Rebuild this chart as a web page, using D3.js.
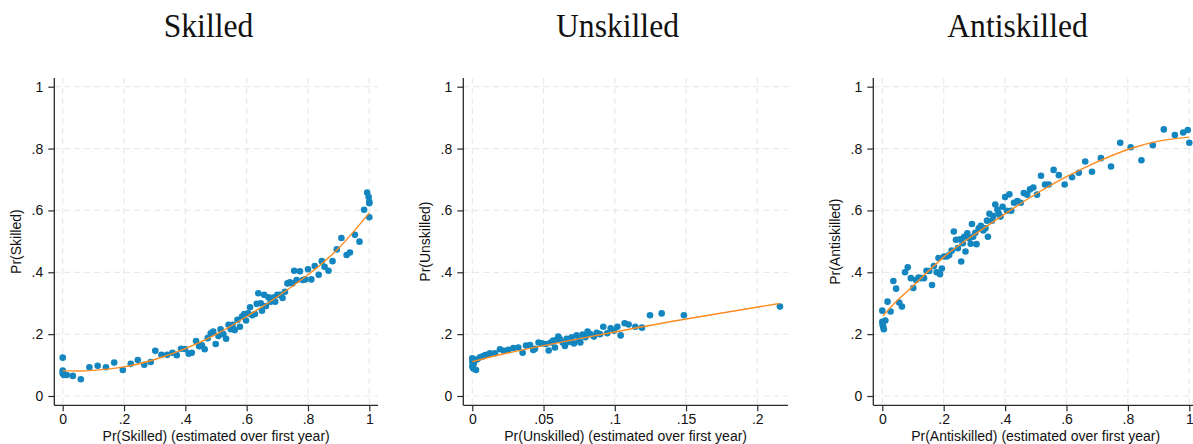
<!DOCTYPE html>
<html>
<head>
<meta charset="utf-8">
<script src="https://cdn.jsdelivr.net/npm/d3@7"></script>
<style>
  html, body { margin: 0; padding: 0; background: #fff; }
  svg { display: block; }
</style>
</head>
<body>
<svg id="chart" width="1193" height="444"></svg>
<script>
// Binned scatter: realised probability vs. first-year estimate, with fitted curve.

const skilledPoints = [
  [0,0.124],[0,0.082],[0,0.073],[0.004,0.068],[0.013,0.068],[0.033,0.065],[0.059,0.054],
  [0.087,0.093],[0.114,0.098],[0.141,0.093],[0.168,0.108],[0.196,0.084],[0.222,0.104],
  [0.245,0.116],[0.266,0.101],[0.287,0.110],[0.302,0.146],[0.322,0.133],[0.341,0.133],
  [0.358,0.140],[0.372,0.132],[0.386,0.153],[0.399,0.152],[0.411,0.137],[0.421,0.140],
  [0.435,0.178],[0.445,0.161],[0.454,0.164],[0.463,0.151],[0.473,0.187],[0.483,0.203],
  [0.491,0.208],[0.499,0.168],[0.508,0.194],[0.515,0.216],[0.524,0.200],[0.533,0.185],
  [0.541,0.230],[0.548,0.216],[0.554,0.230],[0.561,0.213],[0.570,0.246],[0.578,0.224],
  [0.585,0.257],[0.592,0.265],[0.598,0.244],[0.605,0.267],[0.611,0.287],[0.618,0.261],
  [0.627,0.265],[0.633,0.298],[0.638,0.332],[0.646,0.300],[0.650,0.276],[0.657,0.327],
  [0.663,0.291],[0.671,0.319],[0.678,0.305],[0.687,0.318],[0.693,0.305],[0.700,0.327],
  [0.709,0.327],[0.717,0.317],[0.725,0.337],[0.733,0.364],[0.741,0.368],[0.749,0.364],
  [0.755,0.405],[0.763,0.375],[0.774,0.403],[0.783,0.375],[0.791,0.377],[0.800,0.410],
  [0.811,0.377],[0.822,0.420],[0.835,0.392],[0.845,0.436],[0.854,0.418],[0.867,0.405],
  [0.880,0.436],[0.894,0.474],[0.909,0.511],[0.926,0.456],[0.937,0.464],[0.953,0.521],
  [0.968,0.499],[0.983,0.602],[0.993,0.658],[0.998,0.643],[1.0,0.623],[1.0,0.628],[1.0,0.578]
];
const skilledFit = [
  [0,0.082],[0.05,0.081],[0.1,0.083],[0.2,0.094],[0.3,0.118],[0.4,0.153],[0.5,0.199],
  [0.6,0.257],[0.7,0.321],[0.8,0.392],[0.9,0.478],[1.0,0.592]
];

const unskilledPoints = [
  [0,0.122],[0,0.111],[0,0.095],[0.0007,0.089],[0.0026,0.084],[0.001,0.104],[0.002,0.116],
  [0.0035,0.119],[0.0054,0.125],[0.0073,0.128],[0.0091,0.132],[0.011,0.134],[0.0124,0.138],
  [0.0159,0.138],[0.0194,0.151],[0.0222,0.146],[0.0253,0.149],[0.0288,0.155],[0.0323,0.157],
  [0.0353,0.140],[0.0377,0.163],[0.0405,0.165],[0.0428,0.149],[0.044,0.153],[0.0465,0.173],
  [0.0487,0.170],[0.0515,0.168],[0.0536,0.147],[0.055,0.173],[0.0568,0.179],[0.058,0.157],
  [0.0592,0.181],[0.0604,0.192],[0.0615,0.183],[0.0634,0.173],[0.065,0.162],[0.0662,0.185],
  [0.0681,0.175],[0.0697,0.190],[0.0713,0.170],[0.0732,0.196],[0.0749,0.181],[0.0758,0.173],
  [0.0774,0.199],[0.0793,0.190],[0.0809,0.208],[0.0826,0.200],[0.0854,0.192],[0.0873,0.204],
  [0.0896,0.200],[0.0919,0.224],[0.0947,0.203],[0.0971,0.219],[0.0994,0.211],[0.1018,0.224],
  [0.1041,0.196],[0.1069,0.235],[0.1097,0.231],[0.1144,0.224],[0.1191,0.221],[0.1247,0.261],
  [0.1329,0.267],[0.1485,0.261],[0.2159,0.289]
];
const unskilledFit = [
  [0,0.111],[0.02,0.134],[0.05,0.163],[0.1,0.207],[0.15,0.249],[0.2155,0.299]
];

const antiskilledPoints = [
  [0,0.276],[0,0.240],[0.001,0.230],[0.005,0.216],[0.003,0.224],[0.010,0.244],[0.017,0.305],
  [0.027,0.273],[0.036,0.372],[0.045,0.347],[0.055,0.302],[0.064,0.289],[0.074,0.400],
  [0.083,0.416],[0.093,0.381],[0.101,0.349],[0.110,0.375],[0.118,0.383],[0.126,0.381],
  [0.136,0.381],[0.144,0.405],[0.153,0.404],[0.162,0.359],[0.168,0.420],[0.177,0.400],
  [0.183,0.446],[0.188,0.394],[0.194,0.412],[0.201,0.451],[0.210,0.451],[0.218,0.456],
  [0.226,0.470],[0.233,0.532],[0.240,0.505],[0.246,0.478],[0.253,0.507],[0.257,0.435],
  [0.262,0.494],[0.267,0.515],[0.271,0.467],[0.277,0.526],[0.283,0.510],[0.288,0.492],
  [0.292,0.556],[0.296,0.515],[0.303,0.528],[0.307,0.491],[0.314,0.542],[0.321,0.550],
  [0.329,0.535],[0.336,0.542],[0.341,0.567],[0.344,0.515],[0.349,0.589],[0.357,0.567],
  [0.362,0.582],[0.368,0.619],[0.375,0.602],[0.379,0.591],[0.385,0.580],[0.392,0.612],
  [0.400,0.643],[0.406,0.599],[0.414,0.652],[0.420,0.599],[0.429,0.625],[0.440,0.630],
  [0.451,0.625],[0.461,0.656],[0.472,0.651],[0.481,0.668],[0.492,0.674],[0.504,0.651],
  [0.517,0.712],[0.530,0.684],[0.542,0.684],[0.558,0.731],[0.575,0.714],[0.594,0.684],
  [0.618,0.707],[0.640,0.722],[0.661,0.758],[0.683,0.725],[0.712,0.769],[0.745,0.742],
  [0.775,0.819],[0.809,0.804],[0.844,0.762],[0.881,0.811],[0.917,0.862],[0.953,0.844],
  [0.980,0.852],[0.995,0.860],[1.0,0.819]
];
const antiskilledFit = [
  [0.002,0.259],[0.05,0.310],[0.1,0.356],[0.2,0.449],[0.3,0.522],[0.4,0.589],[0.5,0.653],
  [0.6,0.709],[0.7,0.757],[0.8,0.797],[0.9,0.824],[1.0,0.837]
];

const probTicks = [0, 0.2, 0.4, 0.6, 0.8, 1];
const unskilledTicks = [0, 0.05, 0.1, 0.15, 0.2];
const panelTitles = ["Skilled", "Unskilled", "Antiskilled"];
const yTitles = ["Pr(Skilled)", "Pr(Unskilled)", "Pr(Antiskilled)"];
const xTitles = [
  "Pr(Skilled) (estimated over first year)",
  "Pr(Unskilled) (estimated over first year)",
  "Pr(Antiskilled) (estimated over first year)"
];

// Stata-style labels: no leading zero
const fmt = d => d === 0 ? "0" : d === 1 ? "1" : String(+d.toFixed(3)).replace(/^0\./, ".");

const panels = [
  { points: skilledPoints, fit: skilledFit, xTicks: probTicks, xDomain: [0, 1],
    left: 54.3, right: 378, xRange: [62.7, 369.3], titleX: 208.5 },
  { points: unskilledPoints, fit: unskilledFit, xTicks: unskilledTicks, xDomain: [0, 0.2],
    left: 463.3, right: 788, xRange: [472.3, 757.3], titleX: 617.5 },
  { points: antiskilledPoints, fit: antiskilledFit, xTicks: probTicks, xDomain: [0, 1],
    left: 873.3, right: 1198, xRange: [882.3, 1189.3], titleX: 1017.5 }
];

const plotTop = 78, plotBottom = 405.3;
const dotColor = "#1386bf", lineColor = "#ff8b1e", gridColor = "#e9e9e9", axisColor = "#2a2a2a";

const svg = d3.select("#chart");
const y = d3.scaleLinear().domain([0, 1]).range([396, 86.7]);

panels.forEach((p, i) => {
  const x = d3.scaleLinear().domain(p.xDomain).range(p.xRange);
  const g = svg.append("g");

  // dashed grid
  g.selectAll("line.hg").data(probTicks).join("line").attr("class", "hg")
    .attr("x1", p.left).attr("x2", p.right)
    .attr("y1", d => y(d)).attr("y2", d => y(d))
    .attr("stroke", gridColor).attr("stroke-width", 1.2).attr("stroke-dasharray", "6,4");
  g.selectAll("line.vg").data(p.xTicks).join("line").attr("class", "vg")
    .attr("x1", d => x(d)).attr("x2", d => x(d))
    .attr("y1", plotTop).attr("y2", plotBottom)
    .attr("stroke", gridColor).attr("stroke-width", 1.2).attr("stroke-dasharray", "6,4");

  // axes
  const yAxis = d3.axisLeft(y).tickValues(probTicks).tickFormat(fmt).tickSize(6).tickPadding(5);
  const ya = g.append("g").attr("transform", `translate(${p.left},0)`).call(yAxis);
  ya.select(".domain").remove();
  ya.append("line").attr("x1", 0).attr("x2", 0).attr("y1", plotTop).attr("y2", plotBottom)
    .attr("stroke", axisColor).attr("stroke-width", 1.3);

  const xAxis = d3.axisBottom(x).tickValues(p.xTicks).tickFormat(fmt).tickSize(6).tickPadding(3);
  const xa = g.append("g").attr("transform", `translate(0,${plotBottom})`).call(xAxis);
  xa.select(".domain").remove();
  xa.append("line").attr("x1", p.left).attr("x2", p.right).attr("y1", 0).attr("y2", 0)
    .attr("stroke", axisColor).attr("stroke-width", 1.3);

  [ya, xa].forEach(a => {
    a.selectAll(".tick line").attr("stroke", axisColor).attr("stroke-width", 1.2);
    a.selectAll(".tick text").attr("fill", "#111").attr("font-size", 14)
      .attr("font-family", "'Liberation Sans', Arial, sans-serif");
  });

  // axis titles
  g.append("text")
    .attr("transform", `translate(${p.left - 33.5},${(plotTop + plotBottom) / 2}) rotate(-90)`)
    .attr("text-anchor", "middle")
    .attr("font-family", "'Liberation Sans', Arial, sans-serif")
    .attr("font-size", 14).attr("fill", "#111")
    .text(yTitles[i]);
  g.append("text")
    .attr("x", (p.left + p.right) / 2).attr("y", 441)
    .attr("text-anchor", "middle")
    .attr("font-family", "'Liberation Sans', Arial, sans-serif")
    .attr("font-size", 14).attr("fill", "#111")
    .text(xTitles[i]);

  // panel title
  g.append("text")
    .attr("transform", `translate(${p.titleX},37) scale(0.93,1)`)
    .attr("text-anchor", "middle")
    .attr("font-family", "'Liberation Serif', 'DejaVu Serif', serif")
    .attr("font-size", 34).attr("fill", "#111")
    .text(panelTitles[i]);

  // binned points
  g.selectAll("circle").data(p.points).join("circle")
    .attr("cx", d => x(d[0])).attr("cy", d => y(d[1]))
    .attr("r", 3.3).attr("fill", dotColor);

  // fitted curve
  g.append("path").datum(p.fit)
    .attr("d", d3.line().x(d => x(d[0])).y(d => y(d[1])).curve(d3.curveNatural))
    .attr("fill", "none").attr("stroke", lineColor).attr("stroke-width", 1.4);
});
</script>
</body>
</html>
